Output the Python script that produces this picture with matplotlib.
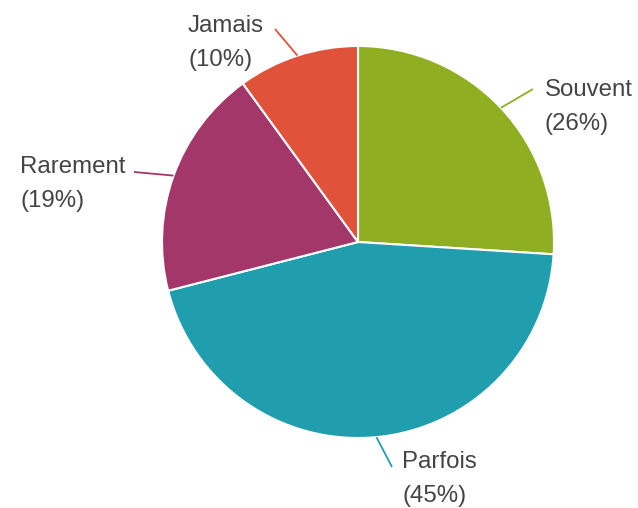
import numpy as np
import matplotlib.pyplot as plt

labels = ["Souvent", "Parfois", "Rarement", "Jamais"]
values = [26, 45, 19, 10]
colors = ["#8fae22", "#219ead", "#a3376a", "#e0523a"]

W, H = 638, 508
cx, cy, r = 358, H - 242, 196

# label layout in image pixels: text left x, first-line baseline y, leader end
text_pos = [(545, 96), (402, 468), (20, 173), (188, 32)]
leader_end = [(533, 89), (392, 467), (134, 172), (275, 29)]

fig = plt.figure(figsize=(W / 100, H / 100), dpi=100)
ax = fig.add_axes([0, 0, 1, 1])

wedges, _ = ax.pie(values, colors=colors, startangle=90, counterclock=False,
                   center=(cx, cy), radius=r,
                   wedgeprops=dict(edgecolor="white", linewidth=1.5))

# pie resets the limits, so set them afterwards
ax.set_xlim(0, W)
ax.set_ylim(0, H)
ax.set_aspect("equal")
ax.axis("off")

for w, lab, val, col, (tx, ty), (ex, ey) in zip(wedges, labels, values, colors,
                                                  text_pos, leader_end):
    ang = np.deg2rad((w.theta1 + w.theta2) / 2)
    x0, y0 = cx + r * np.cos(ang), cy + r * np.sin(ang)
    ax.plot([x0, ex], [y0, H - ey], color=col, lw=1.3, solid_capstyle="butt")
    ax.text(tx, H - ty, lab, ha="left", va="baseline", fontsize=17.3,
            family="Liberation Sans", color="#444444")
    ax.text(tx, H - ty - 34, "(%d%%)" % val, ha="left", va="baseline",
            fontsize=17.3, family="Liberation Sans", color="#444444")

fig.savefig("out.png", dpi=100)
